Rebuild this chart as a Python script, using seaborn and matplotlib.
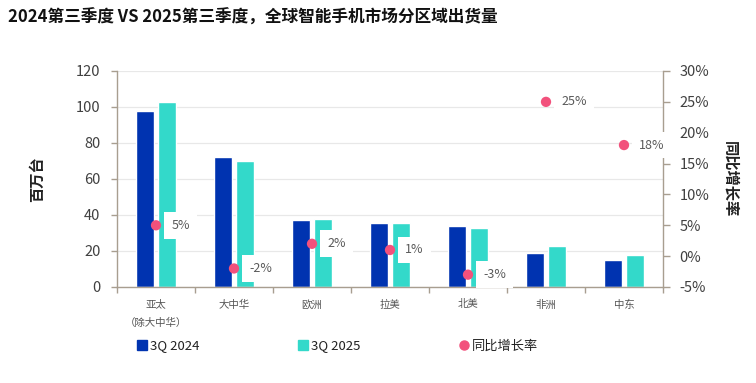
import numpy as np
import pandas as pd
import matplotlib
matplotlib.use("Agg")
import matplotlib.pyplot as plt
from matplotlib.lines import Line2D
import seaborn as sns

regions = ["亚太\n（除大中华）", "大中华", "欧洲", "拉美", "北美", "非洲", "中东"]
q3_2024 = [98, 72, 37.5, 35.5, 34, 19, 15]
q3_2025 = [103, 70, 38, 35.5, 33, 23, 18]
yoy = [5, -2, 2, 1, -3, 25, 18]
yoy_labels = ["5%", "-2%", "2%", "1%", "-3%", "25%", "18%"]
series = ["3Q 2024", "3Q 2025", "同比增长率"]
left_ticks = [0, 20, 40, 60, 80, 100, 120]
right_ticks = [-5, 0, 5, 10, 15, 20, 25, 30]

sns.set_theme(style="white")
plt.rcParams["font.family"] = ["Noto Sans CJK SC", "DejaVu Sans"]

c_dark = "#0033B0"
c_teal = "#33D9CA"
c_pink = "#F2517C"
spine_c = "#A89E90"
txt_c = "#404040"

df = pd.DataFrame({
    "region": regions * 2,
    "value": q3_2024 + q3_2025,
    "series": [series[0]] * len(regions) + [series[1]] * len(regions),
})

fig = plt.figure(figsize=(7.56, 3.83), dpi=100)
ax = fig.add_axes([117 / 756, 1 - 287 / 383, (663 - 117) / 756, (287 - 71) / 383])

sns.barplot(data=df, x="region", y="value", hue="series",
            palette=[c_dark, c_teal], width=0.56, gap=0.16,
            legend=False, ax=ax, saturation=1)

ax.set_xlim(-0.5, len(regions) - 0.5)
ax.set_ylim(0, 120)
ax.set_yticks(left_ticks)
ax.yaxis.grid(True, color="#E8E8E8", linewidth=0.9)
ax.set_axisbelow(True)
ax.set_xlabel("")
ax.set_ylabel("百万台", fontsize=11, fontweight="bold", color="#222222", labelpad=22)

for s in ["top", "right"]:
    ax.spines[s].set_visible(False)
for s in ["left", "bottom"]:
    ax.spines[s].set_color(spine_c)
    ax.spines[s].set_linewidth(1.0)

ax.tick_params(axis="y", which="major", direction="out", length=4, width=1,
               color=spine_c, labelsize=10.5, labelcolor=txt_c, pad=8, left=True)
ax.set_xticks(np.arange(len(regions)))
ax.set_xticklabels(regions, fontsize=7.5, color="#555555", linespacing=2.0, va="top")
ax.tick_params(axis="x", which="major", length=0, pad=9)
ax.set_xticks(np.arange(-0.5, len(regions)), minor=True)
ax.tick_params(axis="x", which="minor", direction="out", length=4, width=1,
               color=spine_c, bottom=True)

ax2 = ax.twinx()
ax2.set_ylim(-5, 30)
ax2.set_yticks(right_ticks)
ax2.set_yticklabels([f"{t}%" for t in right_ticks])
for s in ["top", "left", "bottom"]:
    ax2.spines[s].set_visible(False)
ax2.spines["right"].set_color(spine_c)
ax2.spines["right"].set_linewidth(1.0)
ax2.tick_params(axis="y", direction="out", length=5, width=1, color=spine_c,
                labelsize=10.5, labelcolor=txt_c, pad=7, right=True)
ax2.set_ylabel("同比增长率", fontsize=11, fontweight="bold", color="#222222",
               rotation=270, labelpad=9, va="bottom")
ax2.grid(False)

xs = np.arange(len(regions))
sns.scatterplot(x=xs, y=yoy, color=c_pink, s=55, edgecolor="none",
                ax=ax2, legend=False, zorder=4)
for x, y, lab in zip(xs, yoy, yoy_labels):
    ax2.annotate(lab, (x, y), xytext=(11, 0), textcoords="offset points",
                 ha="left", va="center", fontsize=9, color="#595959",
                 bbox=dict(boxstyle="square,pad=0.55", fc="white", ec="none"),
                 zorder=5, annotation_clip=False)

fig.text(8 / 756, 1 - 18 / 383, "2024第三季度 VS 2025第三季度，全球智能手机市场分区域出货量",
         fontsize=12, fontweight="bold", color="#111111", va="center", ha="left")

handles = [
    Line2D([], [], marker="s", linestyle="none", color=c_dark, markersize=7.5),
    Line2D([], [], marker="s", linestyle="none", color=c_teal, markersize=7.5),
    Line2D([], [], marker="o", linestyle="none", color=c_pink, markersize=6.5),
]
fig.legend(handles, series, loc="center left", bbox_to_anchor=(124 / 756, 1 - 346 / 383),
           ncol=3, frameon=False, fontsize=9.5, columnspacing=7.4,
           handletextpad=0.05, handlelength=1.0, labelcolor="#222222")

fig.savefig("out.png", dpi=100)
